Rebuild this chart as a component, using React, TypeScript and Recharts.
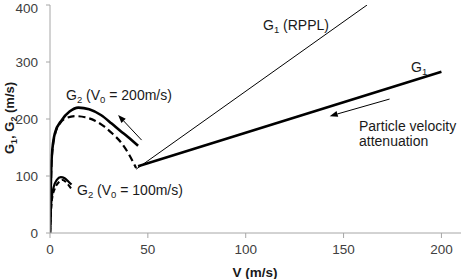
import React from 'react';
import { LineChart, Line, XAxis, YAxis, ReferenceLine } from 'recharts';

// V (m/s) vs G (m/s)
const g1Line = [
  { v: 45, g: 117 },
  { v: 200, g: 283 },
];

const g1Rppl = [
  { v: 44, g: 112 },
  { v: 162, g: 400 },
];

const g2V200Solid = [
  { v: 0, g: 0 },
  { v: 0.4, g: 80 },
  { v: 0.9, g: 134 },
  { v: 2.5, g: 175 },
  { v: 6, g: 198 },
  { v: 10, g: 213 },
  { v: 14.5, g: 220 },
  { v: 20, g: 217 },
  { v: 26, g: 207 },
  { v: 31.5, g: 192 },
  { v: 36, g: 179 },
  { v: 40, g: 168 },
  { v: 45, g: 153 },
];

const g2V200Dashed = [
  { v: 0, g: 0 },
  { v: 0.9, g: 132 },
  { v: 2.5, g: 172 },
  { v: 5, g: 192 },
  { v: 8.5, g: 202 },
  { v: 13, g: 205 },
  { v: 18, g: 203 },
  { v: 23, g: 197 },
  { v: 28, g: 186 },
  { v: 32, g: 174 },
  { v: 36, g: 160 },
  { v: 40, g: 140 },
  { v: 44, g: 114 },
];

const g2V100Solid = [
  { v: 0, g: 0 },
  { v: 0.5, g: 45 },
  { v: 1, g: 65 },
  { v: 2, g: 82 },
  { v: 3.5, g: 93 },
  { v: 5.5, g: 98 },
  { v: 7.5, g: 96 },
  { v: 9.5, g: 90 },
  { v: 11, g: 85 },
];

const g2V100Dashed = [
  { v: 0, g: 0 },
  { v: 1, g: 58 },
  { v: 2.5, g: 78 },
  { v: 4.5, g: 89 },
  { v: 6.5, g: 93 },
  { v: 8.5, g: 88 },
  { v: 11, g: 77 },
];

const xTicks = [0, 50, 100, 150, 200];
const yTicks = [0, 100, 200, 300, 400];

// arrow annotations in data coordinates: [from, to]
const arrowBack = [
  { x: 46.8, y: 163 },
  { x: 34.8, y: 207 },
];
const arrowAtten = [
  { x: 173.5, y: 235 },
  { x: 142.9, y: 205 },
];

const FONT = '"Liberation Sans", Arial, sans-serif';

const ArrowShape = (props: any) => {
  const { x1, y1, x2, y2 } = props;
  const ang = Math.atan2(y2 - y1, x2 - x1);
  const len = 8;
  const w = 3;
  const bx = x2 - len * Math.cos(ang);
  const by = y2 - len * Math.sin(ang);
  const px = -Math.sin(ang) * w;
  const py = Math.cos(ang) * w;
  return (
    <g>
      <line x1={x1} y1={y1} x2={bx} y2={by} stroke="#000" strokeWidth={1} />
      <polygon
        points={`${x2},${y2} ${bx + px},${by + py} ${bx - px},${by - py}`}
        fill="#000"
      />
    </g>
  );
};

const Sub = ({ children }: { children: React.ReactNode }) => (
  <>
    <tspan dy={3} fontSize={9.5}>
      {children}
    </tspan>
    <tspan dy={-3}> </tspan>
  </>
);

export default function App() {
  return (
    <div style={{ position: 'absolute', left: 0, top: 0, width: 466, height: 279, background: '#fff' }}>
      <LineChart
        width={466}
        height={279}
        margin={{ top: 5, right: 5, left: 0, bottom: 0 }}
        style={{ fontFamily: FONT }}
      >
        <XAxis
          type="number"
          dataKey="v"
          domain={[0, 210]}
          ticks={xTicks}
          height={46}
          tickSize={5}
          tickMargin={6}
          stroke="#a6a6a6"
          tick={{ fill: '#404040', fontSize: 13.5 }}
          allowDataOverflow
        />
        <YAxis
          type="number"
          dataKey="g"
          domain={[0, 400]}
          ticks={yTicks}
          width={50}
          tickSize={4}
          tickMargin={8}
          stroke="#a6a6a6"
          tick={{ fill: '#404040', fontSize: 13.5 }}
          allowDataOverflow
        />
        <Line data={g1Rppl} dataKey="g" type="linear" stroke="#000" strokeWidth={1} dot={false} isAnimationActive={false} />
        <Line data={g1Line} dataKey="g" type="linear" stroke="#000" strokeWidth={2.6} dot={false} isAnimationActive={false} />
        <Line data={g2V200Solid} dataKey="g" type="monotone" stroke="#000" strokeWidth={2.6} dot={false} isAnimationActive={false} />
        <Line data={g2V200Dashed} dataKey="g" type="monotone" stroke="#000" strokeWidth={2.2} strokeDasharray="7 4" dot={false} isAnimationActive={false} />
        <Line data={g2V100Solid} dataKey="g" type="monotone" stroke="#000" strokeWidth={2.2} dot={false} isAnimationActive={false} />
        <Line data={g2V100Dashed} dataKey="g" type="monotone" stroke="#000" strokeWidth={2} strokeDasharray="5 3" dot={false} isAnimationActive={false} />
        <ReferenceLine segment={arrowBack} shape={ArrowShape} />
        <ReferenceLine segment={arrowAtten} shape={ArrowShape} />
      </LineChart>
      <svg
        width={466}
        height={279}
        style={{ position: 'absolute', left: 0, top: 0, pointerEvents: 'none', fontFamily: FONT }}
      >
        <g fontSize={14} fill="#1a1a1a">
          <text x={263} y={30}>
            G<Sub>1</Sub>(RPPL)
          </text>
          <text x={411} y={72}>
            G<tspan dy={3} fontSize={9.5}>1</tspan>
          </text>
          <text x={359} y={131}>Particle velocity</text>
          <text x={359} y={146}>attenuation</text>
          <text x={66} y={100}>
            G<Sub>2</Sub>(V<tspan dy={3} fontSize={9.5}>0</tspan>
            <tspan dy={-3}> = 200m/s)</tspan>
          </text>
          <text x={77} y={195}>
            G<Sub>2</Sub>(V<tspan dy={3} fontSize={9.5}>0</tspan>
            <tspan dy={-3}> = 100m/s)</tspan>
          </text>
        </g>
        <text x={255} y={277} textAnchor="middle" fontSize={13.5} fontWeight="bold" fill="#1a1a1a">
          V (m/s)
        </text>
        <text
          transform="translate(14,118) rotate(-90)"
          textAnchor="middle"
          fontSize={13}
          fontWeight="bold"
          fill="#1a1a1a"
        >
          G<tspan dy={3} fontSize={9}>1</tspan>
          <tspan dy={-3}>, G</tspan>
          <tspan dy={3} fontSize={9}>2</tspan>
          <tspan dy={-3}> (m/s)</tspan>
        </text>
      </svg>
    </div>
  );
}
